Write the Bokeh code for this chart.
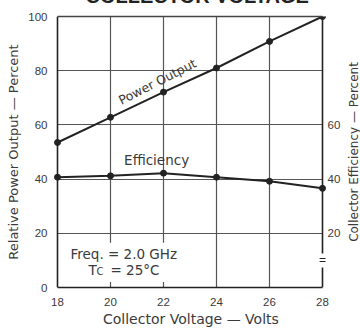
import math
from bokeh.plotting import figure
from bokeh.models import (Range1d, LinearAxis, Label, BoxAnnotation, FixedTicker, Span, Title)
from bokeh.embed import file_html
from bokeh.resources import INLINE

# ---- data ----
voltage = [18, 20, 22, 24, 26, 28]
power_output = [53.5, 62.8, 72.1, 81.0, 90.8, 100.0]
efficiency = [40.7, 41.2, 42.2, 40.7, 39.2, 36.6]
x_ticks = [18, 20, 22, 24, 26, 28]
y_ticks_left = [0, 20, 40, 60, 80, 100]
y_ticks_right = [20, 40, 60]
x_grid = [20, 22, 24, 26]
y_grid = [20, 40, 60, 80]
x_lim = (18, 28)
y_lim = (0, 100)

TICK_FONT = "Liberation Sans"
FONT = "DejaVu Sans"
INK = "#222222"
TEXT = "#3a3a3a"
GRID = "#555555"
SHIFT = 30          # canvas rows hidden above the page (the title is cut off in the reference)
PXU = 26.5          # pixels per volt
LEFT_PAD = 5 / PXU  # keeps the first markers inside the frame
RIGHT_PAD = 38 / PXU  # frame runs to the canvas edge so the right-hand texts are not clipped
NB = "\u00a0" * 7   # re-centres the x-axis title under the 18-28 V span

p = figure(width=360, height=329 + SHIFT,
           x_range=Range1d(x_lim[0] - LEFT_PAD, x_lim[1] + RIGHT_PAD), y_range=Range1d(*y_lim),
           output_backend="svg", toolbar_location=None,
           min_border_left=52, min_border_right=0,
           min_border_top=16 + SHIFT, min_border_bottom=42,
           x_axis_label="Collector Voltage \u2014 Volts" + NB,
           y_axis_label="Relative Power Output \u2014 Percent")
p.styles = {"margin-top": f"-{SHIFT}px"}
p.outline_line_color = None
p.background_fill_color = "white"
p.border_fill_color = "white"

p.xgrid.ticker = FixedTicker(ticks=x_grid)
p.ygrid.ticker = FixedTicker(ticks=y_grid)
for g in (p.xgrid, p.ygrid):
    g.grid_line_color = GRID
    g.grid_line_width = 1.2
p.ygrid.cross_bounds = x_lim

def style_axis(ax):
    ax.axis_line_color = INK
    ax.axis_line_width = 1.6
    ax.major_tick_line_color = None
    ax.minor_tick_line_color = None
    ax.major_tick_out = 0
    ax.major_tick_in = 0
    ax.minor_tick_out = 0
    ax.minor_tick_in = 0
    ax.major_label_text_font = TICK_FONT
    ax.major_label_text_font_size = "11.5px"
    ax.major_label_text_color = TEXT
    ax.axis_label_text_font = FONT
    ax.axis_label_text_font_size = "13px"
    ax.axis_label_text_font_style = "normal"
    ax.axis_label_text_color = TEXT

p.xaxis.ticker = FixedTicker(ticks=x_ticks)
p.yaxis.ticker = FixedTicker(ticks=y_ticks_left)
style_axis(p.xaxis[0])
style_axis(p.yaxis[0])
p.xaxis.bounds = x_lim
p.xaxis.axis_label_text_font_size = "14px"
p.xaxis.major_label_standoff = 10
p.xaxis.axis_label_standoff = 2
p.yaxis.axis_line_color = None
p.yaxis.major_label_standoff = 5
p.yaxis.axis_label_standoff = 4

# right-hand efficiency scale, pinned to the 28 V frame line
right = LinearAxis(ticker=FixedTicker(ticks=y_ticks_right), fixed_location=x_lim[1])
style_axis(right)
right.axis_line_color = None
right.major_label_standoff = 5
p.add_layout(right, "right")

top = LinearAxis(ticker=FixedTicker(ticks=[]), bounds=x_lim)
style_axis(top)
top.axis_line_color = "#444444"
top.major_label_text_font_size = "0px"
p.add_layout(top, "above")

p.add_layout(Span(location=x_lim[0], dimension="height", line_color=INK, line_width=1.6))
p.add_layout(Span(location=x_lim[1], dimension="height", line_color=INK, line_width=1.6))

p.title = Title(text="COLLECTOR VOLTAGE", align="left", offset=33,
                text_font="Liberation Sans", text_font_size="20px", text_font_style="bold",
                text_color=INK, standoff=19)

# ---- data series ----
p.line(voltage, power_output, line_color=INK, line_width=2)
p.scatter(voltage, power_output, size=6, color=INK)
p.line(voltage, efficiency, line_color=INK, line_width=2)
p.scatter(voltage, efficiency, size=6, color=INK)

# ---- annotations ----
p.add_layout(Label(x=21.77, y=76.0, text="Power Output", angle=math.radians(27),
                   text_align="center", text_baseline="middle",
                   text_font=FONT, text_font_size="12.5px", text_color=TEXT))
p.add_layout(Label(x=21.74, y=47.2, text="Efficiency",
                   text_align="center", text_baseline="middle",
                   text_font=FONT, text_font_size="13.5px", text_color=TEXT))

p.add_layout(BoxAnnotation(left=18.15, right=22.35, bottom=2, top=16.5,
                           fill_color="white", fill_alpha=1, line_color=None, level="glyph"))
p.add_layout(Label(x=18.49, y=12.5, text="Freq. = 2.0 GHz",
                   text_align="left", text_baseline="middle",
                   text_font=FONT, text_font_size="13.5px", text_color=TEXT))
p.add_layout(Label(x=19.17, y=6.6, text="T",
                   text_align="left", text_baseline="middle",
                   text_font=FONT, text_font_size="13.5px", text_color=TEXT))
p.add_layout(Label(x=19.17, y=6.6, x_offset=8, y_offset=-2, text="C",
                   text_align="left", text_baseline="middle",
                   text_font=FONT, text_font_size="10px", text_color=TEXT))
p.add_layout(Label(x=19.17, y=6.6, x_offset=22, text="= 25\u00b0C",
                   text_align="left", text_baseline="middle",
                   text_font=FONT, text_font_size="13.5px", text_color=TEXT))

# axis break on the right frame line
p.add_layout(Label(x=x_lim[1], y=10, text="=", text_align="center", text_baseline="middle",
                   background_fill_color="white", text_font=TICK_FONT, text_font_size="12px",
                   text_color=INK))

# right-hand axis title (reads bottom to top)
p.add_layout(Label(x=x_lim[1], x_offset=31, y=sum(y_lim) / 2, text="Collector Efficiency \u2014 Percent",
                   angle=math.pi / 2, text_align="center", text_baseline="middle",
                   text_font=FONT, text_font_size="12px", text_color=TEXT))

open("out.html", "w").write(file_html(p, INLINE))
